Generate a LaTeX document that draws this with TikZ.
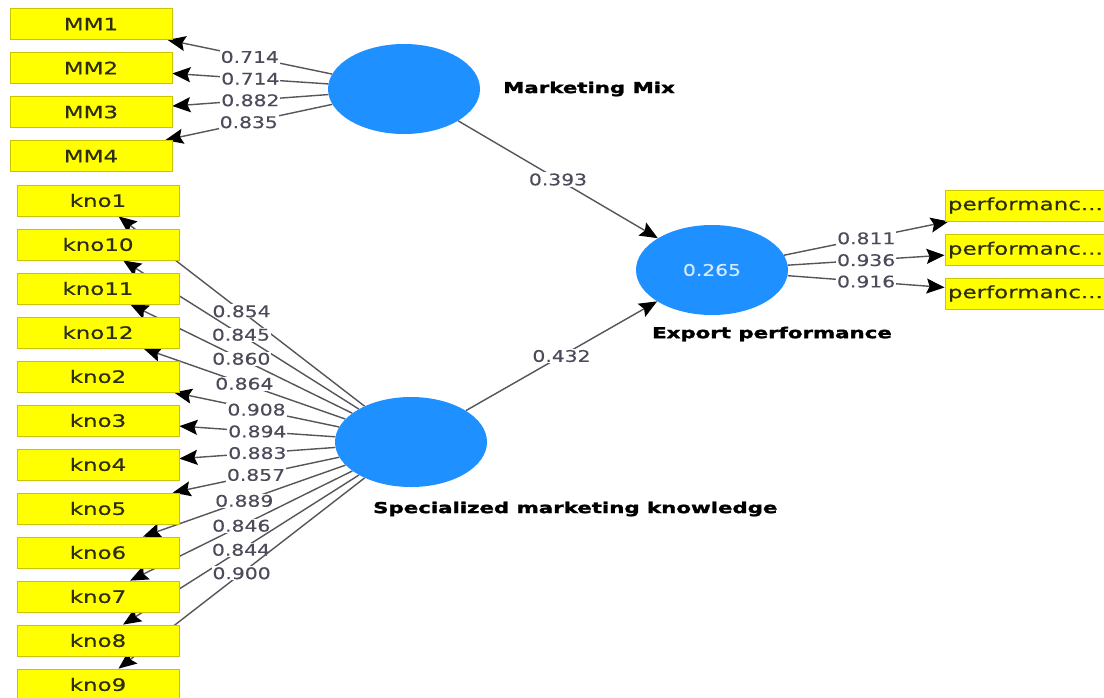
\documentclass[tikz,border=0pt]{standalone}
\usepackage{fontspec}
\usetikzlibrary{arrows.meta,shapes.geometric}
\newfontfamily\boxfont[FakeStretch=1.35,FakeBold=0.6]{DejaVu Sans}
\newfontfamily\numfont[FakeStretch=1.27,FakeBold=0.3]{DejaVu Sans}
\newfontfamily\latfont[FakeStretch=1.42,FakeBold=2]{DejaVu Sans}
\definecolor{indfill}{RGB}{255,255,0}
\definecolor{inddraw}{RGB}{205,195,0}
\definecolor{indtext}{RGB}{45,45,15}
\definecolor{latfill}{RGB}{30,144,255}
\definecolor{linec}{RGB}{85,85,90}
\definecolor{numc}{RGB}{75,75,90}
\definecolor{r2c}{RGB}{215,235,255}
\pgfdeclarelayer{bg}
\pgfdeclarelayer{edges}
\pgfsetlayers{bg,edges,main}
\begin{document}
\begin{tikzpicture}[x=1pt,y=-1pt,
  ind/.style={draw=inddraw, line width=0.8pt, fill=indfill, minimum width=162pt, minimum height=31pt, inner sep=0pt, font=\boxfont\fontsize{17}{20}\selectfont, text=indtext},
  lat/.style={ellipse, fill=latfill, minimum width=152pt, minimum height=90pt, inner sep=0pt},
  latlabel/.style={font=\latfont\bfseries\fontsize{15}{18}\selectfont, text=black, inner sep=0pt},
  con/.style={draw=linec, line width=1.4pt, -{Stealth[length=18pt,width=15pt,inset=3pt,black]}},
  lbl/.style={midway, fill=white, inner sep=1pt, font=\numfont\fontsize{16}{18}\selectfont, text=numc}]
\useasboundingbox (0,0) rectangle (1104,697);
\begin{pgfonlayer}{bg}
\fill[white] (0,0) rectangle (1104,697);
\end{pgfonlayer}
% indicators
\node[ind] (MM1) at (91,24) {MM1};
\node[ind] (MM2) at (91,68) {MM2};
\node[ind] (MM3) at (91,112) {MM3};
\node[ind] (MM4) at (91,156) {MM4};
\node[ind] (k1) at (98,200.5) {kno1};
\node[ind] (k10) at (98,244.5) {kno10};
\node[ind] (k11) at (98,288.5) {kno11};
\node[ind] (k12) at (98,332.5) {kno12};
\node[ind] (k2) at (98,376.5) {kno2};
\node[ind] (k3) at (98,420.5) {kno3};
\node[ind] (k4) at (98,464.5) {kno4};
\node[ind] (k5) at (98,508.5) {kno5};
\node[ind] (k6) at (98,552.5) {kno6};
\node[ind] (k7) at (98,596.5) {kno7};
\node[ind] (k8) at (98,640.5) {kno8};
\node[ind] (k9) at (98,684.5) {kno9};
\node[ind, text width=156pt, align=left] (p1) at (1026,205.5) {performanc...};
\node[ind, text width=156pt, align=left] (p2) at (1026,250) {performanc...};
\node[ind, text width=156pt, align=left] (p3) at (1026,293.5) {performanc...};
% latent variables
\node[lat] (MM) at (404,89) {};
\node[lat, font=\numfont\fontsize{16}{18}\selectfont, text=r2c] (EP) at (712,270) {0.265};
\node[lat] (SMK) at (411,442) {};
\node[latlabel, anchor=west] (MMl) at (503,89) {Marketing Mix};
\node[latlabel] (EPl) at (772,334) {Export performance};
\node[latlabel, anchor=west] (SMKl) at (373,509) {Specialized marketing knowledge};
\begin{pgfonlayer}{edges}
\draw[con] (MM) -- node[lbl] {0.714} (MM1);
\draw[con] (MM) -- node[lbl] {0.714} (MM2);
\draw[con] (MM) -- node[lbl] {0.882} (MM3);
\draw[con] (MM) -- node[lbl] {0.835} (MM4);
\draw[con] (SMK) -- node[lbl] {0.854} (k1);
\draw[con] (SMK) -- node[lbl] {0.845} (k10);
\draw[con] (SMK) -- node[lbl] {0.860} (k11);
\draw[con] (SMK) -- node[lbl] {0.864} (k12);
\draw[con] (SMK) -- node[lbl] {0.908} (k2);
\draw[con] (SMK) -- node[lbl] {0.894} (k3);
\draw[con] (SMK) -- node[lbl] {0.883} (k4);
\draw[con] (SMK) -- node[lbl] {0.857} (k5);
\draw[con] (SMK) -- node[lbl] {0.889} (k6);
\draw[con] (SMK) -- node[lbl] {0.846} (k7);
\draw[con] (SMK) -- node[lbl] {0.844} (k8);
\draw[con] (SMK) -- node[lbl] {0.900} (k9);
\draw[con] (MM) -- node[lbl] {0.393} (EP);
\draw[con] (SMK) -- node[lbl] {0.432} (EP);
\draw[con] (EP) -- node[lbl] {0.811} (p1);
\draw[con] (EP) -- node[lbl] {0.936} (p2);
\draw[con] (EP) -- node[lbl] {0.916} (p3);
\end{pgfonlayer}
\end{tikzpicture}
\end{document}
